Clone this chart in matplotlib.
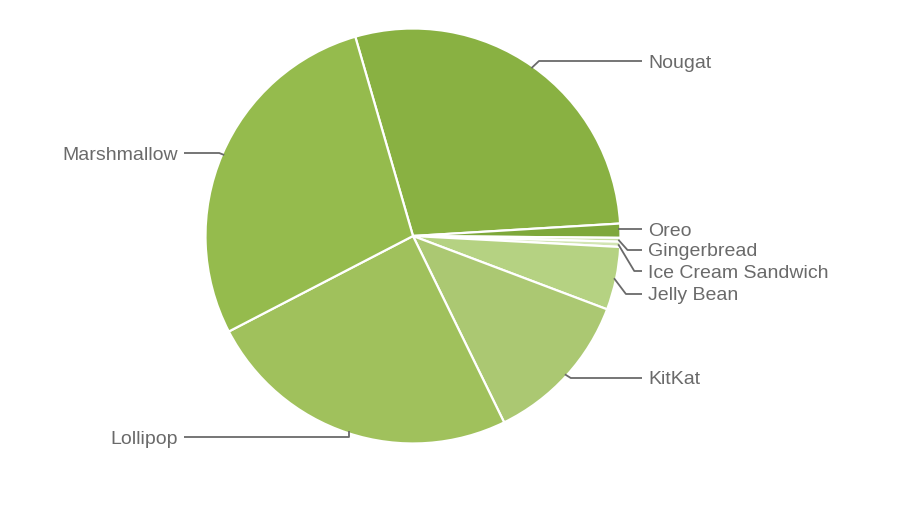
import numpy as np
import matplotlib
matplotlib.use('Agg')
from matplotlib import pyplot as plt

# slice order is clockwise, starting just left of 12 o'clock
versions = ['Nougat', 'Oreo', 'Gingerbread', 'Ice Cream Sandwich',
            'Jelly Bean', 'KitKat', 'Lollipop', 'Marshmallow']
share = [28.5, 1.1, 0.3, 0.4, 4.9, 12.0, 24.6, 28.1]
colors = ['#89b142', '#7ea83b', '#c8dfa2', '#d2e5b3',
          '#b5d282', '#abc872', '#a0c15c', '#95bb4d']

# label positions in pixels (x, y from top)
label_pos = {
    'Nougat': (648, 61), 'Oreo': (648, 229), 'Gingerbread': (648, 250),
    'Ice Cream Sandwich': (648, 271), 'Jelly Bean': (648, 294),
    'KitKat': (648, 378), 'Lollipop': (178, 437), 'Marshmallow': (178, 153),
}

W, H = 920, 526
cx, cy, r = 413, H - 236, 207.5

fig = plt.figure(figsize=(W / 100, H / 100), dpi=100)
ax = fig.add_axes([0, 0, 1, 1])

wedges, _ = ax.pie(share, colors=colors, center=(cx, cy), radius=r,
                   startangle=106.15, counterclock=False,
                   wedgeprops=dict(edgecolor='white', linewidth=1.6))

# pie() sets its own limits, so put pixel limits back afterwards
ax.set_xlim(0, W)
ax.set_ylim(0, H)
ax.set_aspect('equal')
ax.axis('off')

text_col = '#6a6a6a'
for w, name in zip(wedges, versions):
    mid = np.deg2rad((w.theta1 + w.theta2) / 2)
    axx = cx + r * np.cos(mid) * 0.99
    ayy = cy + r * np.sin(mid) * 0.99
    lx, ly = label_pos[name]
    ly = H - ly
    side = 1 if lx > cx else -1
    dy = abs(ly - ayy)
    if name == 'Oreo':
        xs = [axx, lx - side * 6]
        ys = [ly, ly]
    elif name == 'Lollipop':
        xs = [axx, axx, lx - side * 6]
        ys = [ayy, ly, ly]
    else:
        ex = axx + side * min(4 + dy * 0.5, 16)
        xs = [axx, ex, lx - side * 6]
        ys = [ayy, ly, ly]
    ax.plot(xs, ys, color=text_col, lw=1.3, solid_capstyle='butt')
    ax.text(lx, ly - 6.5, name, ha='left' if side > 0 else 'right', va='baseline',
            fontsize=14, color=text_col, family=['Liberation Sans', 'DejaVu Sans'])

fig.savefig('out.png', dpi=100, facecolor='white')
